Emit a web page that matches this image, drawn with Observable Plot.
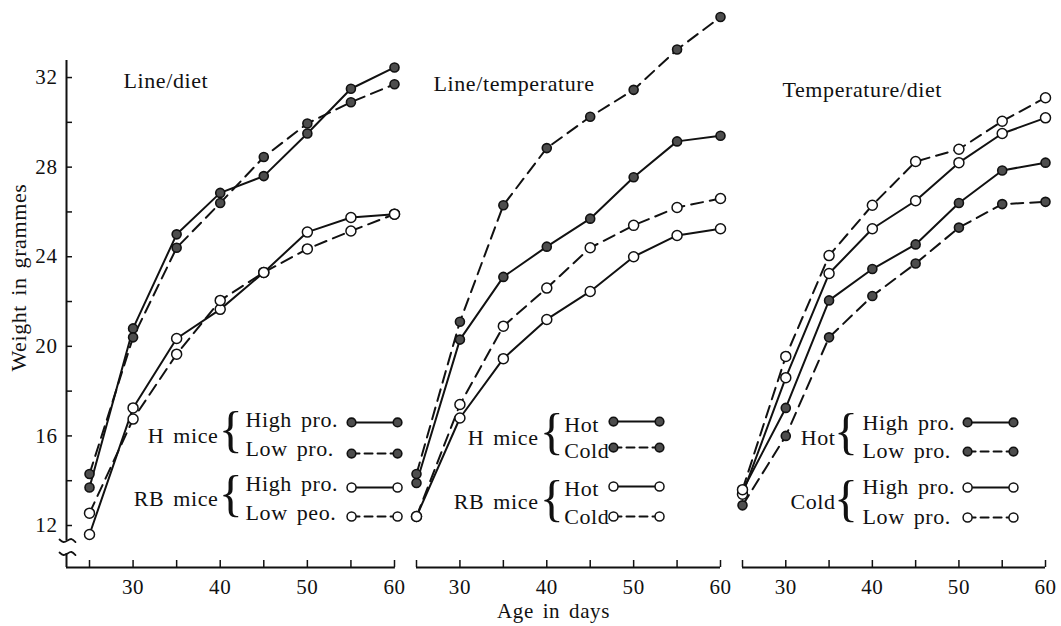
<!DOCTYPE html>
<html><head><meta charset="utf-8">
<script src="https://cdn.jsdelivr.net/npm/d3@7"></script>
<script src="https://cdn.jsdelivr.net/npm/@observablehq/plot@0.6"></script>
<style>
html,body{margin:0;padding:0;background:#fff;}
#chart{position:relative;width:1061px;height:626px;overflow:hidden;background:#fff;}
#chart svg{position:absolute;top:0;overflow:visible;background:transparent;}
#chart svg text{font-family:"Liberation Serif","Times New Roman",serif;}
</style></head><body><div id="chart"></div>
<script>
// ---------- data ----------
const days = [25, 30, 35, 40, 45, 50, 55, 60];
const xTickValues = [25, 30, 35, 40, 45, 50, 55, 60];
const xTickLabels = [30, 40, 50, 60];
const yTickValues = [12, 14, 16, 18, 20, 22, 24, 26, 28, 30, 32];
const yTickLabels = [12, 16, 20, 24, 28, 32];
const panelTitles = ["Line/diet", "Line/temperature", "Temperature/diet"];
const xAxisTitle = "Age in days";
const yAxisTitle = "Weight in grammes";

// Panel 1: Line/diet
const ldHHigh  = [13.7, 20.8, 25.0, 26.85, 27.6, 29.5, 31.5, 32.45];
const ldHLow   = [14.3, 20.4, 24.4, 26.4, 28.45, 29.95, 30.9, 31.7];
const ldRBHigh = [11.6, 17.25, 20.35, 21.65, 23.3, 25.1, 25.75, 25.9];
const ldRBLow  = [12.55, 16.75, 19.65, 22.05, 23.3, 24.35, 25.15, 25.9];

// Panel 2: Line/temperature
const ltHHot   = [13.9, 20.3, 23.1, 24.45, 25.7, 27.55, 29.15, 29.4];
const ltHCold  = [14.3, 21.1, 26.3, 28.85, 30.25, 31.45, 33.25, 34.7];
const ltRBHot  = [12.4, 16.8, 19.45, 21.2, 22.45, 24.0, 24.95, 25.25];
const ltRBCold = [12.4, 17.4, 20.9, 22.6, 24.4, 25.4, 26.2, 26.6];

// Panel 3: Temperature/diet
const tdHotHigh  = [13.55, 17.25, 22.05, 23.45, 24.55, 26.4, 27.85, 28.2];
const tdHotLow   = [12.9, 16.0, 20.4, 22.25, 23.7, 25.3, 26.35, 26.45];
const tdColdHigh = [13.4, 18.6, 23.25, 25.25, 26.5, 28.2, 29.5, 30.2];
const tdColdLow  = [13.6, 19.55, 24.05, 26.3, 28.25, 28.8, 30.05, 31.1];

const legend1Groups = ["H mice", "RB mice"];
const legend1Items  = ["High pro.", "Low pro.", "High pro.", "Low peo."];
const legend2Groups = ["H mice", "RB mice"];
const legend2Items  = ["Hot", "Cold", "Hot", "Cold"];
const legend3Groups = ["Hot", "Cold"];
const legend3Items  = ["High pro.", "Low pro.", "High pro.", "Low pro."];

// ---------- layout ----------
const INK = "#111";
const FONT = "Liberation Serif";
const H = 626, MB = 59;
const yDomain = [10.125, 35.44];
const yBase = 10.125;
const pxPerG = 22.4;

const layouts = [
  {left: 0, width: 405, mL: 66, mR: 11, xDomain: [22.36, 60], axisX0: 22.36, axisX1: 60.1, pxPerDay: 8.714,
   title: {x: 28.9, y: 31.84},
   legend: {groupX: 39.8, braceX: 41.25, labelX: 42.9, sampleX: [55.07, 60.35],
            groupY: [16.02, 13.2], braceY: [16.13, 13.27], labelY: [16.73, 15.44, 13.875, 12.54], sampleY: [16.6, 15.21, 13.7, 12.4]}},
  {left: 405, width: 325, mL: 11, mR: 10, xDomain: [25, 60], axisX0: 25, axisX1: 60, pxPerDay: 8.686,
   title: {x: 26.96, y: 31.72},
   legend: {groupX: 39.05, braceX: 40.6, labelX: 42.0, sampleX: [47.68, 52.98],
            groupY: [15.93, 13.03], braceY: [16.06, 13.07], labelY: [16.51, 15.35, 13.61, 12.36], sampleY: [16.64, 15.48, 13.74, 12.4]},
   xTitle: {x: 40.77, y: 8.15}},
  {left: 730, width: 331, mL: 12, mR: 16, xDomain: [25, 60], axisX0: 25, axisX1: 60, pxPerDay: 8.657,
   title: {x: 29.62, y: 31.43},
   legend: {groupX: 35.75, braceX: 37.0, labelX: 38.86, sampleX: [51.0, 56.3],
            groupY: [15.93, 13.03], braceY: [16.02, 13.07], labelY: [16.6, 15.35, 13.74, 12.36], sampleY: [16.6, 15.3, 13.7, 12.36]}}
];

const styles = [
  {filled: true, dashed: false}, {filled: true, dashed: true},
  {filled: false, dashed: false}, {filled: false, dashed: true}
];

function drawPanel(p, seriesValues, groups, items) {
  const L = layouts[p];
  const lg = L.legend;
  const rows = seriesValues.flatMap((vals, s) => days.map((d, j) => ({day: d, w: vals[j], s, ...styles[s]})));
  const legendRows = items.map((t, k) => ({text: t, ty: lg.labelY[k], sy: lg.sampleY[k], k, ...styles[k]}));
  const sampleRows = legendRows.flatMap(r => lg.sampleX.map(x => ({x, y: r.sy, k: r.k, filled: r.filled, dashed: r.dashed})));
  const groupRows = groups.map((g, k) => ({text: g, y: lg.groupY[k], by: lg.braceY[k]}));
  const tickLen = 7 / pxPerG;
  const yTickLen = 6 / L.pxPerDay;
  const T = {fontFamily: FONT, fill: INK, lineAnchor: "middle"};

  const marks = [
    // x axis baseline + ticks
    Plot.ruleY([yBase], {x1: L.axisX0, x2: L.axisX1, stroke: INK, strokeWidth: 2}),
    Plot.ruleX(xTickValues, {x: d => d, y1: yBase, y2: yBase + tickLen, stroke: INK, strokeWidth: 1.5}),
    Plot.text(xTickLabels, {x: d => d, y: yBase, dy: 20, text: d => String(d), fontSize: 21, ...T}),
    // data lines
    Plot.line(rows.filter(r => !r.dashed), {x: "day", y: "w", z: "s", stroke: INK, strokeWidth: 2}),
    Plot.line(rows.filter(r => r.dashed), {x: "day", y: "w", z: "s", stroke: INK, strokeWidth: 2, strokeDasharray: "12,7"}),
    Plot.dot(rows.filter(r => r.filled), {x: "day", y: "w", r: 4.5, fill: "#4d4d4d", stroke: INK, strokeWidth: 1.6}),
    Plot.dot(rows.filter(r => !r.filled), {x: "day", y: "w", r: 5, fill: "white", stroke: INK, strokeWidth: 1.5}),
    // title
    Plot.text([panelTitles[p]], {x: L.title.x, y: L.title.y, text: d => d, textAnchor: "start", fontSize: 22, ...T}),
    // legend
    Plot.text(groupRows, {x: lg.groupX, y: "y", text: "text", textAnchor: "end", fontSize: 22, ...T}),
    Plot.text(groupRows, {x: lg.braceX, y: "by", text: () => "{", textAnchor: "middle", fontSize: 50, dy: -3, ...T}),
    Plot.text(legendRows, {x: lg.labelX, y: "ty", text: "text", textAnchor: "start", fontSize: 22, ...T}),
    Plot.line(sampleRows.filter(r => !r.dashed), {x: "x", y: "y", z: "k", stroke: INK, strokeWidth: 2}),
    Plot.line(sampleRows.filter(r => r.dashed), {x: "x", y: "y", z: "k", stroke: INK, strokeWidth: 2, strokeDasharray: "8,5"}),
    Plot.dot(sampleRows.filter(r => r.filled), {x: "x", y: "y", r: 4.3, fill: "#4d4d4d", stroke: INK, strokeWidth: 1.6}),
    Plot.dot(sampleRows.filter(r => !r.filled), {x: "x", y: "y", r: 4.5, fill: "white", stroke: INK, strokeWidth: 1.5})
  ];

  if (p === 0) {
    const x0 = L.axisX0;
    const dX = 1 / L.pxPerDay, dY = 1 / pxPerG;
    const breakRows = [0, 1].flatMap(b => {
      const cy = b === 0 ? 11.33 : 10.75;
      return [[-7, 1], [-3, -1.5], [1, 0], [5, 1.5], [9, -1.5]].map(([ox, oy]) => ({x: x0 + ox * dX, y: cy + oy * dY, b}));
    });
    marks.push(
      Plot.ruleX([x0], {y1: 11.33, y2: 32.76, stroke: INK, strokeWidth: 2}),
      Plot.ruleX([x0], {y1: yBase, y2: 10.75, stroke: INK, strokeWidth: 2}),
      Plot.line(breakRows, {x: "x", y: "y", z: "b", curve: "natural", stroke: INK, strokeWidth: 1.8}),
      Plot.ruleY(yTickValues, {y: d => d, x1: x0, x2: x0 + yTickLen, stroke: INK, strokeWidth: 1.5}),
      Plot.text(yTickLabels, {x: x0, y: d => d, dx: -9, text: d => String(d), textAnchor: "end", fontSize: 21, ...T}),
      Plot.text([yAxisTitle], {x: 25 + (18 - 89) / L.pxPerDay, y: 23.07, text: d => d, rotate: -90, textAnchor: "middle", fontSize: 22, ...T})
    );
  }
  if (L.xTitle) {
    marks.push(Plot.text([xAxisTitle], {x: L.xTitle.x, y: L.xTitle.y, text: d => d, textAnchor: "middle", fontSize: 21, ...T}));
  }

  const svg = Plot.plot({
    width: L.width, height: H,
    marginLeft: L.mL, marginRight: L.mR, marginTop: 0, marginBottom: MB,
    x: {domain: L.xDomain, axis: null},
    y: {domain: yDomain, axis: null},
    style: {fontFamily: FONT, color: INK, background: "transparent", overflow: "visible", letterSpacing: "0.6px", wordSpacing: "3px"},
    marks
  });
  svg.style.left = L.left + "px";
  svg.style.maxWidth = "none";
  document.getElementById("chart").appendChild(svg);
}

drawPanel(0, [ldHHigh, ldHLow, ldRBHigh, ldRBLow], legend1Groups, legend1Items);
drawPanel(1, [ltHHot, ltHCold, ltRBHot, ltRBCold], legend2Groups, legend2Items);
drawPanel(2, [tdHotHigh, tdHotLow, tdColdHigh, tdColdLow], legend3Groups, legend3Items);
</script></body></html>
